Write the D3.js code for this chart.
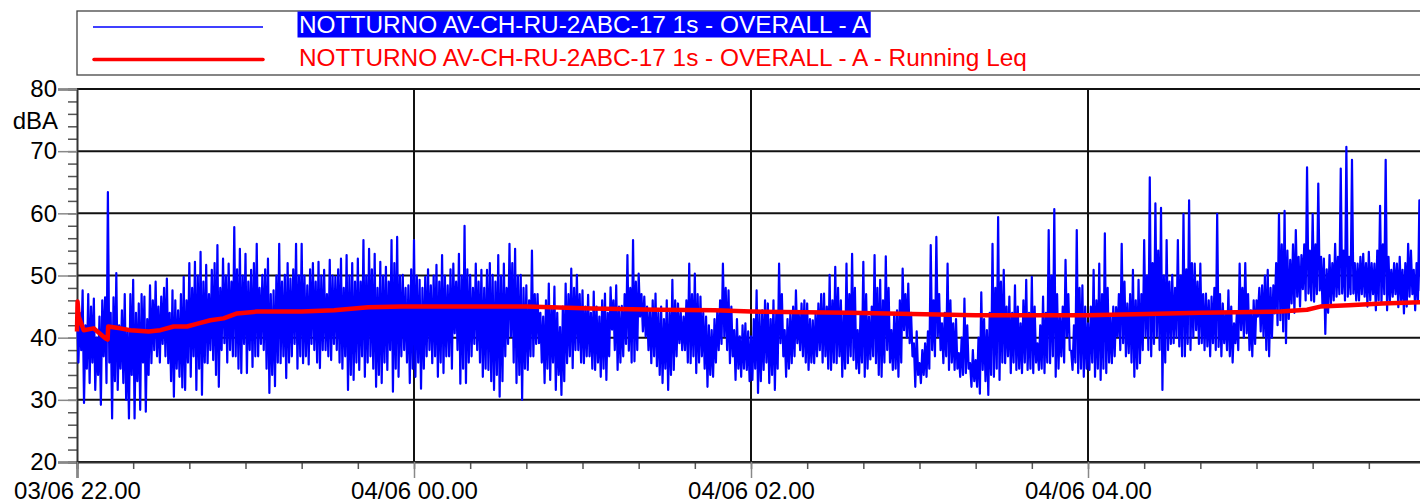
<!DOCTYPE html>
<html>
<head>
<meta charset="utf-8">
<script src="https://cdn.jsdelivr.net/npm/d3@7"></script>
<style>
  body { margin: 0; background: #fff; }
  svg { display: block; font-family: "Liberation Sans", Arial, sans-serif; }
</style>
</head>
<body>
<svg id="chart" width="1420" height="504"></svg>
<script>
// per-minute maxima of the 1s level from 03/06 22.00, one row per 20 minutes (dBA)
const levelHi = [
  45,44,47.6,42,47,45,46.3,40,43.4,46,46.5,63.4,44,46.5,50.4,42,44.4,47,41,47,
  49.3,44,45.5,47,46.6,43,48.4,46,49,45,46.6,48,49.5,44,47.6,46,44.4,47,49.8,46,
  52,48,52.2,50,53.8,49,51.7,47,50.9,52,54.9,48,52.7,50,51.9,49,57.8,51,54.3,50,
  53.5,49,50.9,52,55.1,48,50.1,51,52.7,47,47.6,50,55.1,49,50.1,52,49.5,51,55.1,50,
  55.1,50,48.4,51,52,49,52.2,50,50.9,47,52.5,50,49.8,51,52.7,48,53.3,50,52,49,
  52.7,49,55.7,50,54.3,51,53.5,48,52.2,50,51.4,49,55.7,52,56.2,50,50.1,48,48.4,51,
  55.7,50,49.3,48,49.8,51,48.4,50,51.7,49,53.3,50,48.4,51,51.9,49,53.5,50,58,51,
  50.1,48,51.9,49,50.9,48,50.9,52,50.1,49,53.3,50,51.9,48,55.1,52,54.3,50,50.1,48,
  48.4,46,54,47,47,44,43.4,46,48.7,45,48.2,44,41.7,45,48.7,47,51.1,48,50.1,47,
  47.6,45,46.9,44,47.4,45,43.4,46,47.1,44,48.1,46,48.4,45,45.1,47,53.3,48,55.7,49,
  50.3,47,46.6,45,44.4,46,47.1,44,45,43,46,44,49.3,46,45.5,44,43.4,46,51.9,47,
  50.3,47,46.6,44,43.4,42,41.2,43,44.4,46,51.9,48,47.6,45,41.2,43,40.2,42,42.3,41,
  40.2,43,47.6,44,44.4,46,45.5,43,46,44,51.9,47,41.2,43,43.9,45,47.6,44,45.5,46,
  45.5,43,42.8,44,45.5,47,47.1,45,50.1,46,51.4,48,46,44,51.9,47,53.5,48,41.2,44,
  52.2,47,43.4,45,53.3,48,49.3,46,53.1,48,41.2,44,44.4,46,51.1,47,48.7,44,39.1,41,
  35.9,38,39.1,41,54.9,46,56.2,47,42.3,44,51.9,46,42.3,43,37.5,40,46.3,42,35.9,38,
  36.4,40,47.3,43,41.2,44,55.1,48,59.4,49,50.9,45,46.6,44,48.4,45,42.3,46,49.3,44,
  49.8,45,39.1,42,46.6,44,57.3,50,60.7,47,43.4,45,52.5,47,37.9,42,57.3,48,48.4,45,
  42.3,45,50.9,46,51.9,47,56.8,48,43.4,45,44.9,47,55.1,49,45.5,47,50.9,46,49.3,47,
  55.7,50,65.8,52,61.6,54,60.9,50,55.7,49,50.1,48,55.7,50,59.9,51,62.1,52,51.9,49,
  51.9,47,47.1,46,46.6,48,59.9,47,45.5,44,47.6,45,42.3,44,51.9,48,52,47,44.4,46,
  46,48,48.4,50,50.9,48,48.4,52,59.9,55,60.4,54,52.5,55,57.3,53,53.3,55,67.4,54,
  59.9,55,64.8,53,52.7,51,53.3,52,55.1,53,67.2,54,70.7,53,68.6,52,51.9,53,53.5,52,
  53.8,52,51.9,54,61.2,55,68.6,53,50.9,52,51.9,53,50.9,52,55.1,54,50.9,52,62.1,53
];
// per-minute minima, same layout
const levelLo = [
  36,38,29.5,35,32.7,36,31.6,34,29.2,37,32.7,36,27,33,31.6,35,32.7,30,27,34,
  27,33,28.4,36,28.1,34,35.9,38,37,36,39,37,35.9,33,30.5,35,33.7,32,31.6,36,
  33.7,37,31.6,35,30.8,36,35.9,38,36.4,34,32.1,38,39.1,36,38,37,37,35,34.3,39,
  34.3,38,35.3,37,37,39,38,35,31.1,34,32.2,36,35.9,37,33.5,36,37,39,35,37,
  35.9,37,35.7,39,38,36,35.1,38,38,37,36.4,39,38,36,35,37,31.6,34,33.2,36,
  34.8,37,33.7,36,37,35,32.1,34,32.7,36,34.8,38,31.3,35,33.7,37,38,36,32.7,35,
  33.7,36,31.8,35,37,38,35.9,37,33.7,36,34.3,37,37,35,40.7,38,32.6,35,32.7,36,
  37,39,38,36,33.7,35,34.8,33,31.6,34,30.5,33,37,39,40.2,36,32.7,34,30,35,
  34.8,37,37,39,39.1,36,32.7,35,33.2,36,31.6,34,30.8,33,35.9,37,35.1,38,38,36,
  35.9,37,37,35,34.8,36,33.7,35,33.2,37,41.3,38,34.8,36,37,39,37.9,36,36.2,38,
  43.4,41,40.2,38,35.9,37,35.4,34,32.7,35,31.6,34,34.8,37,39.1,38,38,36,35.9,37,
  34.3,36,37,35,32.1,34,33.7,36,38,39,40.2,38,35.9,37,33.2,35,33.7,35,34.8,33,
  33.2,35,31.1,33,34.8,36,32.7,34,31.6,35,39.1,37,33.7,35,35.9,37,39.1,38,37,36,
  34.8,36,35.9,37,38,36,37,35,34.8,36,35.9,37,33.7,35,35.9,37,36.4,35,34.3,36,
  33.7,35,36.5,37,35.9,34,33.7,36,38,36,34.8,35,33.7,36,41.2,40,39.1,37,32.1,34,
  32.7,34,33.7,35,38,37,40.2,38,35.9,37,34.8,36,34.8,35,33.7,34,34.3,35,32.1,33,
  32.1,31,34.8,33,30.8,34,33.7,35,33.2,36,35.9,37,34.3,36,34.8,35,34.3,36,34.8,35,
  34.3,36,34.8,35,34.3,36,35.9,37,33.7,35,37,36,40.2,38,34.8,36,34.3,35,33.7,35,
  34.8,36,33.7,35,33.2,35,34.3,36,35.9,37,40.2,38,39.1,37,37.5,36,33.7,35,35.9,38,
  40.2,38,37,39,40.2,38,31.6,36,38,39,39.1,40,38.6,37,37,39,38,40,41.2,39,
  39.1,38,38.6,37,39.1,38,38.5,37,39.1,38,37,36,39.1,38,41.2,40,40.7,38,37,39,
  43.4,41,40.2,38,37,40,43.9,42,42.8,41,39.1,43,45.5,44,46.6,45,47.8,46,47.1,46,
  45.8,47,47.6,45,40.6,44,45.5,46,46.6,47,47.1,46,46.6,47,47.1,46,46,47,46.6,45,
  46,47,44.4,46,45.5,47,44.4,46,46.6,47,44.9,46,43.9,45,46.6,47,44.4,46,47.6,46
];

// running Leq, minutes after 22.00
const leqMinutes = [0, 0.2, 0.6, 2.4, 5.9, 10.1, 10.9, 11.1, 15.4, 19, 25.5, 29.7, 34.4, 39.2, 43.3, 47.5, 52.2, 57, 64.1, 80,
  91.6, 103.7, 115.6, 160, 183.3, 207, 227.2, 240, 274.9, 320, 360, 380.8, 400, 428.5, 438, 442.7, 452.8, 464.7, 478.8];
const leqValues = [41, 45.8, 43.4, 41.2, 41.5, 39.9, 39.7, 41.8, 41.5, 41.2, 41, 41.2, 41.8, 41.8, 42.3, 42.8, 43.1, 43.9, 44.2, 44.2,
  44.4, 44.9, 45, 45, 44.7, 44.5, 44.4, 44.2, 44, 43.6, 43.6, 43.8, 44, 44.2, 44.5, 45, 45.2, 45.5, 45.7];

const yMajorTicks = [20, 30, 40, 50, 60, 70, 80];
const xLabelHours = [0, 2, 4, 6]; // hours after 22.00 that get a label
const seriesNames = ["NOTTURNO AV-CH-RU-2ABC-17 1s - OVERALL - A",
                     "NOTTURNO AV-CH-RU-2ABC-17 1s - OVERALL - A - Running Leq"];
const seriesColors = ["#0000ff", "#ff0000"];

const svg = d3.select("#chart");
const start = new Date(2000, 5, 3, 22, 0);
const end = new Date(2000, 5, 4, 6, 0);
const atMin = m => new Date(start.getTime() + m * 60000);

const x = d3.scaleTime().domain([start, end]).range([77, 1425]);
const y = d3.scaleLinear().domain([20, 80]).range([462, 89]);

// legend
const leg = svg.append("g");
leg.append("rect").attr("x", 77).attr("y", 11).attr("width", 1400).attr("height", 64)
  .attr("fill", "#fff").attr("stroke", "#444").attr("stroke-width", 1.3);
leg.append("line").attr("x1", 93).attr("x2", 263).attr("y1", 27).attr("y2", 27)
  .attr("stroke", seriesColors[0]).attr("stroke-width", 1.3);
leg.append("line").attr("x1", 94).attr("x2", 263).attr("y1", 59.5).attr("y2", 59.5)
  .attr("stroke", seriesColors[1]).attr("stroke-width", 3.5).attr("stroke-linecap", "round");
const hl = leg.append("rect").attr("fill", seriesColors[0]);
const t1 = leg.append("text").attr("x", 299).attr("y", 33).attr("font-size", 24.4)
  .attr("fill", "#fff").text(seriesNames[0]);
leg.append("text").attr("x", 299).attr("y", 65.5).attr("font-size", 24.4)
  .attr("fill", seriesColors[1]).text(seriesNames[1]);
const w1 = t1.node().getComputedTextLength();
hl.attr("x", 297.5).attr("y", 11.5).attr("width", w1 + 4).attr("height", 26);

// grid
const grid = svg.append("g");
grid.selectAll(".hg").data(yMajorTicks).enter().append("line")
  .attr("x1", 77).attr("x2", 1420)
  .attr("y1", d => y(d)).attr("y2", d => y(d))
  .attr("stroke", "#111").attr("stroke-width", 2);
grid.selectAll(".vg").data(xLabelHours.slice(1).map(h => atMin(h * 60)).filter(d => x(d) < 1420)).enter().append("line")
  .attr("x1", d => x(d)).attr("x2", d => x(d))
  .attr("y1", 89).attr("y2", 462)
  .attr("stroke", "#111").attr("stroke-width", 2);

// y axis
const yMinor = svg.append("g").attr("transform", "translate(77,0)")
  .call(d3.axisLeft(y).tickValues(d3.range(20, 81, 2)).tickSize(9).tickFormat(""));
yMinor.select(".domain").remove();
yMinor.selectAll("line").attr("stroke", "#555").attr("stroke-width", 1.5);

const yMajor = svg.append("g").attr("transform", "translate(77,0)")
  .call(d3.axisLeft(y).tickValues(yMajorTicks).tickSize(19).tickPadding(1));
yMajor.select(".domain").attr("stroke", "#333").attr("stroke-width", 2);
yMajor.selectAll("line").attr("stroke", "#888").attr("stroke-width", 1.5);
yMajor.selectAll("text").attr("font-size", 24).attr("font-family", "Liberation Sans, Arial, sans-serif")
  .attr("fill", "#000");

svg.append("text").attr("x", 58).attr("y", 129).attr("text-anchor", "end")
  .attr("font-size", 24).text("dBA");

// x axis
const xMinor = svg.append("g").attr("transform", "translate(0,462)")
  .call(d3.axisBottom(x).ticks(d3.timeMinute.every(20)).tickSize(7).tickFormat(""));
xMinor.select(".domain").remove();
xMinor.selectAll("line").attr("stroke", "#555").attr("stroke-width", 1.5);

const xMajor = svg.append("g").attr("transform", "translate(0,462)")
  .call(d3.axisBottom(x).tickValues(xLabelHours.map(h => atMin(h * 60)).filter(d => x(d) < 1420))
    .tickSize(16).tickPadding(4).tickFormat(d3.timeFormat("%d/%m %H.%M")));
xMajor.select(".domain").attr("stroke", "#333").attr("stroke-width", 2);
xMajor.selectAll("line").attr("stroke", "#888").attr("stroke-width", 1.5);
xMajor.selectAll("text").attr("font-size", 24).attr("font-family", "Liberation Sans, Arial, sans-serif")
  .attr("fill", "#000");

// series: each minute draws its max then its min
const levelPts = [];
levelHi.forEach((v, i) => { levelPts.push([atMin(i), v]); levelPts.push([atMin(i + 0.5), levelLo[i]]); });

const plot = svg.append("g");
plot.append("path")
  .datum(levelPts)
  .attr("fill", "none").attr("stroke", seriesColors[0]).attr("stroke-width", 2.2)
  .attr("stroke-linejoin", "round")
  .attr("d", d3.line().x(d => x(d[0])).y(d => y(d[1])));

plot.append("path")
  .datum(leqMinutes.map((m, i) => [atMin(m), leqValues[i]]))
  .attr("fill", "none").attr("stroke", seriesColors[1]).attr("stroke-width", 4.5)
  .attr("stroke-linejoin", "round")
  .attr("d", d3.line().x(d => x(d[0])).y(d => y(d[1])));
</script>
</body>
</html>
